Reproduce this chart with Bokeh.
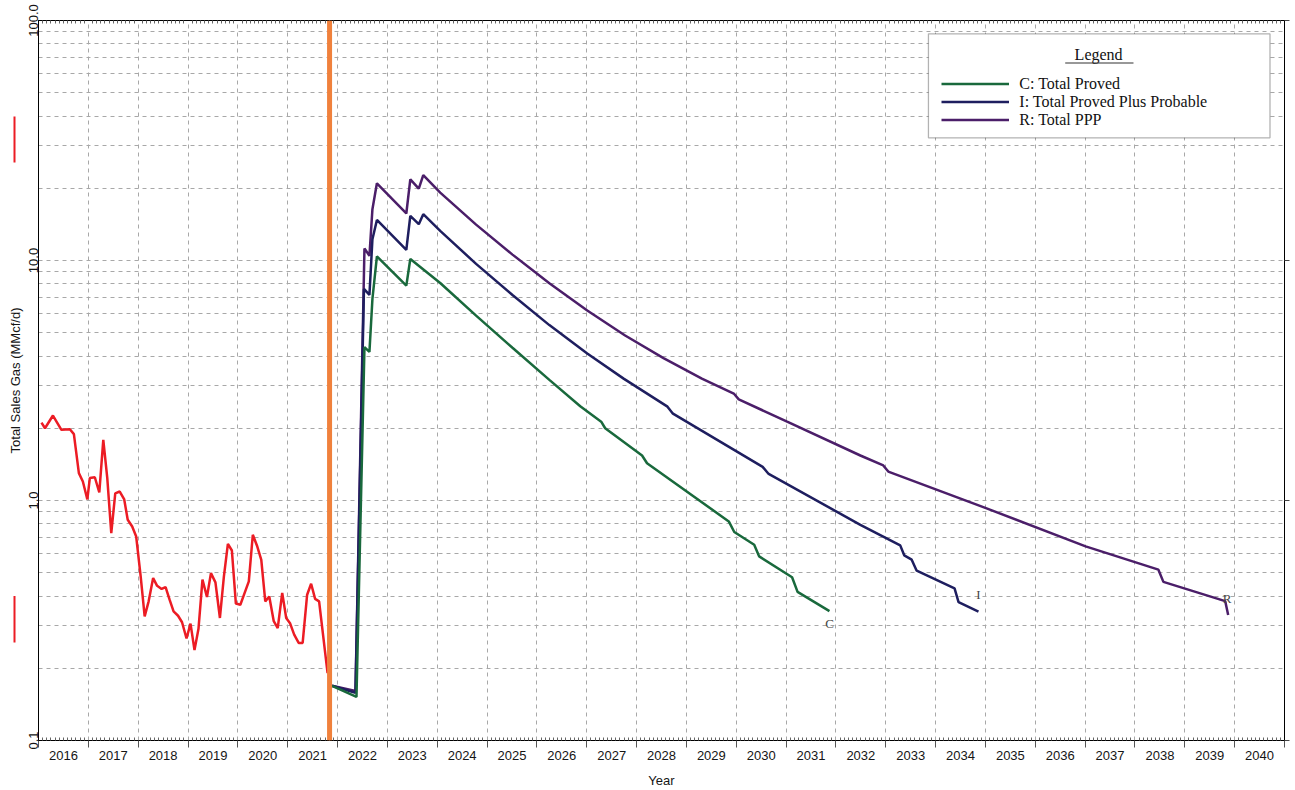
import math
from bokeh.plotting import figure
from bokeh.layouts import row
from bokeh.models import (Range1d, LinearAxis, LogAxis, FixedTicker, CustomJSTickFormatter,
                          Grid, Span, BoxAnnotation, Label, Legend, LegendItem)
from bokeh.core.properties import value
from bokeh.embed import file_html
from bokeh.resources import INLINE

# ---------------------------------------------------------------- data
# monthly sales-gas history (decimal year, MMcf/d)
hist_year = [2016.06, 2016.13, 2016.29, 2016.46, 2016.63, 2016.71, 2016.81, 2016.89, 2016.98, 2017.03,
             2017.13, 2017.22, 2017.30, 2017.38, 2017.46, 2017.54, 2017.63, 2017.72, 2017.79, 2017.88,
             2017.96, 2018.05, 2018.13, 2018.21, 2018.30, 2018.38, 2018.47, 2018.55, 2018.63, 2018.71,
             2018.80, 2018.88, 2018.97, 2019.05, 2019.13, 2019.21, 2019.29, 2019.38, 2019.46, 2019.55,
             2019.64, 2019.72, 2019.80, 2019.88, 2019.96, 2020.05, 2020.14, 2020.22, 2020.30, 2020.39,
             2020.47, 2020.55, 2020.63, 2020.72, 2020.80, 2020.89, 2020.97, 2021.05, 2021.13, 2021.22,
             2021.30, 2021.39, 2021.47, 2021.55, 2021.63, 2021.80]
hist_rate = [2.11, 2.00, 2.26, 1.97, 1.98, 1.89, 1.30, 1.20, 1.01, 1.24,
             1.25, 1.08, 1.79, 1.24, 0.731, 1.07, 1.09, 1.01, 0.831, 0.779,
             0.708, 0.483, 0.329, 0.380, 0.475, 0.441, 0.428, 0.436, 0.386, 0.345,
             0.331, 0.311, 0.266, 0.307, 0.238, 0.292, 0.468, 0.396, 0.498, 0.456,
             0.324, 0.483, 0.660, 0.619, 0.372, 0.368, 0.414, 0.460, 0.720, 0.643,
             0.566, 0.380, 0.398, 0.314, 0.294, 0.412, 0.324, 0.307, 0.276, 0.255,
             0.255, 0.405, 0.450, 0.389, 0.380, 0.191]

# forecast: C = Total Proved
c_year = [2021.89, 2022.38, 2022.54, 2022.64, 2022.70, 2022.79, 2023.38, 2023.46, 2024.06, 2024.78,
          2025.51, 2026.25, 2026.87, 2027.29, 2027.37, 2028.11, 2028.21, 2029.85, 2029.96, 2030.36,
          2030.46, 2031.12, 2031.23, 2031.87]
c_rate = [0.169, 0.152, 4.36, 4.16, 6.92, 10.40, 7.86, 10.14, 8.06, 5.89,
          4.33, 3.18, 2.47, 2.13, 2.00, 1.54, 1.43, 0.818, 0.739, 0.654,
          0.585, 0.479, 0.416, 0.346]

# forecast: I = Total Proved Plus Probable
i_year = [2021.89, 2022.36, 2022.53, 2022.64, 2022.70, 2022.79, 2023.38, 2023.46, 2023.63, 2023.72,
          2024.06, 2024.78, 2025.51, 2026.25, 2027.01, 2027.74, 2028.62, 2028.73, 2030.53, 2030.65,
          2032.49, 2033.29, 2033.37, 2033.52, 2033.62, 2034.38, 2034.46, 2034.86]
i_rate = [0.169, 0.158, 7.61, 7.19, 12.27, 14.76, 11.08, 15.34, 14.17, 15.59,
          13.29, 9.68, 7.18, 5.38, 4.10, 3.22, 2.46, 2.30, 1.38, 1.29,
          0.792, 0.650, 0.591, 0.567, 0.510, 0.430, 0.377, 0.344]

# forecast: R = Total PPP
r_year = [2021.89, 2022.36, 2022.54, 2022.64, 2022.70, 2022.79, 2023.38, 2023.46, 2023.63, 2023.72,
          2024.06, 2024.78, 2025.51, 2026.25, 2027.01, 2027.77, 2028.54, 2029.31, 2029.95, 2030.05,
          2031.02, 2032.49, 2032.95, 2033.05, 2035.01, 2037.01, 2038.47, 2038.57, 2039.81, 2039.87]
r_rate = [0.169, 0.161, 11.23, 10.46, 16.36, 20.97, 15.70, 21.79, 19.93, 22.70,
          19.19, 14.11, 10.58, 8.04, 6.19, 4.87, 3.92, 3.22, 2.79, 2.64,
          2.13, 1.54, 1.40, 1.32, 0.929, 0.644, 0.515, 0.458, 0.381, 0.333]

# red range markers beside the value axis (MMcf/d)
marker_low = [25.6, 0.256]
marker_high = [39.8, 0.400]

forecast_start = 2021.84
series_names = ["C: Total Proved", "I: Total Proved Plus Probable", "R: Total PPP"]
end_tags = ["C", "I", "R"]
year_labels = [str(y) for y in range(2016, 2041)]
y_tick_values = [0.1, 1.0, 10.0, 100.0]
y_tick_labels = ["0.1", "1.0", "10.0", "100.0"]
y_title = "Total Sales Gas (MMcf/d)"

# ---------------------------------------------------------------- styles
SANS = "Liberation Sans"
SERIF = "Liberation Serif"
RED = "#EC1C24"
ORANGE = "#F0813C"
GREEN = "#19693C"
NAVY = "#1E1E5F"
PURPLE = "#4B1E69"
GRID = "#a8a8a8"
TXT = "#151515"

H = 790
TOP, BOTTOM = 20, 48          # borders above / below the plotting frame
STRIP_W = 24                  # left strip holding the axis title and markers
MAIN_W = 1295 - STRIP_W

first_year = int(year_labels[0])
last_year = int(year_labels[-1]) + 1
year_bounds = list(range(first_year, last_year + 1))
month_ticks = [first_year + k / 12 for k in range(1, (last_year - first_year) * 12) if k % 12]
year_mids = [int(lbl) + 0.5 for lbl in year_labels]
y_lo, y_hi = y_tick_values[0], y_tick_values[-1]

# ---------------------------------------------------------------- main plot
p = figure(width=MAIN_W, height=H,
           x_range=Range1d(first_year, last_year), y_range=Range1d(y_lo, y_hi),
           y_axis_type="log", x_axis_location=None, y_axis_location=None,
           output_backend="svg", toolbar_location=None,
           min_border_left=14, min_border_right=11, min_border_top=TOP, min_border_bottom=BOTTOM)
p.background_fill_color = "white"
p.border_fill_color = "white"
p.outline_line_color = "black"
p.outline_line_width = 1

# drop default grids, add dashed year / log-minor grids
p.center = [r for r in p.center if not isinstance(r, Grid)]
log_minor = [m * 10.0 ** d for d in (-1, 0, 1) for m in range(1, 10)][1:]
p.add_layout(Grid(dimension=0, ticker=FixedTicker(ticks=year_bounds[1:-1]),
                  grid_line_color=GRID, grid_line_dash="4 4", grid_line_width=1))
p.add_layout(Grid(dimension=1, ticker=FixedTicker(ticks=log_minor),
                  grid_line_color=GRID, grid_line_dash="4 4", grid_line_width=1))

blank = CustomJSTickFormatter(code="return ''")

# bottom: tick axis (year boundaries out, months in)
ax_ticks = LinearAxis(ticker=FixedTicker(ticks=year_bounds, minor_ticks=month_ticks),
                      formatter=blank, major_label_text_font_size="0px", major_label_standoff=0,
                      major_tick_in=0, major_tick_out=7, minor_tick_in=3, minor_tick_out=0,
                      axis_line_color="black", major_tick_line_color="#555555",
                      minor_tick_line_color="#666666")
p.add_layout(ax_ticks, "below")

# bottom: year labels centred in each year
ax_years = LinearAxis(ticker=FixedTicker(ticks=year_mids),
                      formatter=CustomJSTickFormatter(args=dict(labels=year_labels, first=first_year),
                                                      code="return labels[Math.floor(tick) - first] || ''"),
                      axis_line_color=None, major_tick_line_color=None, minor_tick_line_color=None,
                      major_label_standoff=-3, major_label_text_font=SANS,
                      major_label_text_font_size="13px", major_label_text_color=TXT,
                      axis_label="Year", axis_label_text_font=SANS, axis_label_text_font_size="13px",
                      axis_label_text_font_style="normal", axis_label_text_color=TXT,
                      axis_label_standoff=10)
p.add_layout(ax_years, "below")

# top: month ticks only
ax_top = LinearAxis(ticker=FixedTicker(ticks=year_bounds, minor_ticks=month_ticks),
                    formatter=blank, major_label_text_font_size="0px", major_label_standoff=0,
                    major_tick_in=0, major_tick_out=0, minor_tick_in=3, minor_tick_out=0,
                    axis_line_color="black", minor_tick_line_color="#666666")
p.add_layout(ax_top, "above")

# left: log decades, vertical labels (title sits in the strip beside it)
y_fmt = CustomJSTickFormatter(args=dict(vals=y_tick_values, labels=y_tick_labels),
                              code="""
const i = vals.findIndex(v => Math.abs(v - tick) <= 1e-6 * v);
return i < 0 ? '' : labels[i];
""")
ax_left = LogAxis(ticker=FixedTicker(ticks=y_tick_values), formatter=y_fmt,
                  major_label_orientation="vertical", major_label_standoff=1,
                  major_label_text_font=SANS, major_label_text_font_size="13px",
                  major_label_text_color=TXT,
                  major_tick_in=0, major_tick_out=0, minor_tick_line_color=None,
                  axis_line_color="black")
p.add_layout(ax_left, "left")

# right: decade ticks only
ax_right = LogAxis(ticker=FixedTicker(ticks=y_tick_values), formatter=blank,
                   major_label_text_font_size="0px", major_label_standoff=0,
                   major_tick_in=0, major_tick_out=5, minor_tick_line_color=None,
                   axis_line_color="black", major_tick_line_color="#444444")
p.add_layout(ax_right, "right")

# ---------------------------------------------------------------- lines
p.line(hist_year, hist_rate, line_color=RED, line_width=2.5)
rR = p.line(r_year, r_rate, line_color=PURPLE, line_width=2.5)
rI = p.line(i_year, i_rate, line_color=NAVY, line_width=2.5)
rC = p.line(c_year, c_rate, line_color=GREEN, line_width=2.5)

p.add_layout(Span(location=forecast_start, dimension="height", line_color=ORANGE, line_width=5))

# end-of-forecast tags
tag_font = dict(text_font=value(SERIF), text_font_size="13px", text_color="#444444",
                text_align="center")
p.text(x=[c_year[-1]], y=[c_rate[-1]], text=[end_tags[0]], text_baseline="top", y_offset=5, **tag_font)
p.text(x=[i_year[-1]], y=[i_rate[-1]], text=[end_tags[1]], text_baseline="bottom", y_offset=-10, **tag_font)
p.text(x=[r_year[-2]], y=[r_rate[-2]], text=[end_tags[2]], text_baseline="middle", x_offset=2, y_offset=-3,
       **tag_font)

# ---------------------------------------------------------------- legend
p.add_layout(BoxAnnotation(left=2033.856, right=2040.709, bottom=32.45, top=88.0,
                           fill_color="white", fill_alpha=1, line_color="black", line_width=1.3))
p.add_layout(Label(x=2037.27, y=71.97, text="Legend", text_align="center", text_baseline="middle",
                   text_font=SERIF, text_font_size="16px", text_color="#111111"))
p.add_layout(BoxAnnotation(left=2036.60, right=2037.97, bottom=66.2, top=66.8,
                           fill_color="#333333", fill_alpha=1, line_color=None))
legend = Legend(items=[LegendItem(label=series_names[0], renderers=[rC]),
                       LegendItem(label=series_names[1], renderers=[rI]),
                       LegendItem(label=series_names[2], renderers=[rR])],
                location=(903.3, 611.5), orientation="vertical",
                glyph_width=68, glyph_height=17, label_height=17, label_standoff=10,
                spacing=0, padding=5, margin=0,
                label_text_font=SERIF, label_text_font_size="16px", label_text_color="#111111",
                border_line_color=None, background_fill_alpha=0)
p.add_layout(legend)

# ---------------------------------------------------------------- left strip
# its frame is aligned with the main frame by the row layout, so it shares the value scale
s = figure(width=STRIP_W, height=H, x_range=Range1d(0, STRIP_W), y_range=Range1d(y_lo, y_hi),
           y_axis_type="log", x_axis_location=None, y_axis_location=None,
           output_backend="svg", toolbar_location=None,
           min_border_left=0, min_border_right=0, min_border_top=TOP, min_border_bottom=BOTTOM)
s.center = [r for r in s.center if not isinstance(r, Grid)]
s.outline_line_color = None
s.background_fill_color = "white"
s.border_fill_color = "white"
s.quad(left=13, right=15, bottom=marker_low, top=marker_high, fill_color=RED, line_color=None)
s.text(x=[15], y=[math.sqrt(y_lo * y_hi)], text=[y_title], angle=math.pi / 2,
       text_align="center", text_baseline="middle",
       text_font=value(SANS), text_font_size="13px", text_color=TXT)

layout = row(s, p, spacing=0)
open("out.html", "w").write(file_html(layout, INLINE))
